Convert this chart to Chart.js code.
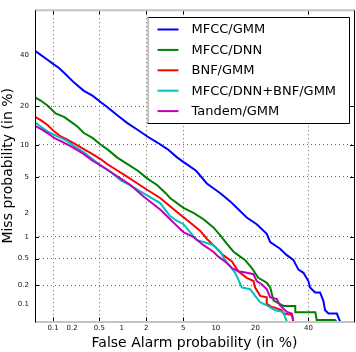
<!DOCTYPE html>
<html><head><meta charset="utf-8">
<script src="https://cdn.jsdelivr.net/npm/chart.js@4.4.0/dist/chart.umd.min.js"></script>
<style>html,body{margin:0;padding:0;background:#fff}canvas{display:block}</style>
</head><body>
<canvas id="c" width="356" height="352"></canvas>
<script>
// ---- data (percent) ----
const seriesNames = ["MFCC/GMM", "MFCC/DNN", "BNF/GMM", "MFCC/DNN+BNF/GMM", "Tandem/GMM"];
const seriesColors = ["#0000ff", "#008000", "#ff0000", "#00bfbf", "#bf00bf"];

const mfccGmmFA   = [0.05,0.0625,0.081,0.104,0.125,0.16,0.214,0.30,0.40,0.52,0.64,0.875,1.18,1.57,2.06,2.67,3.44,4.37,5.1,6.67,8.35,9.53,10.9,13.1,14.7,17.4,20.4,23.7,24.9,28.5,31.1,33.7,35.8,37.9,40,40.7,42.9,45.1,46.5,47.3,48.8,52.5,53.9];
const mfccGmmMiss = [41.7,39.9,37.8,35.7,34.3,31.6,28.4,25.3,23.6,21.4,19.8,17.3,15.1,13.4,11.8,10.5,9.2,7.7,6.95,5.76,4.27,3.8,3.36,2.72,2.29,1.75,1.45,1.09,0.85,0.69,0.56,0.48,0.346,0.31,0.232,0.184,0.153,0.153,0.113,0.078,0.0685,0.0685,0.05];

const mfccDnnFA   = [0.05,0.0625,0.081,0.0975,0.11,0.15,0.19,0.24,0.30,0.40,0.52,0.64,0.875,1.18,1.57,2.06,2.67,3.3,3.67,5.03,6.3,7.8,9.53,10.9,12.3,13.9,15.6,16.9,18.9,20.9,23.7,24.9,26.1,29.8,34.5,34.5,43.0,43.6,51.7,52.0];
const mfccDnnMiss = [23.0,21.9,20.3,18.8,17.8,16.8,15.5,14.2,12.6,11.5,10.1,9.2,7.7,6.7,5.8,4.8,4.1,3.36,2.97,2.29,2.0,1.67,1.32,1.04,0.81,0.626,0.534,0.48,0.365,0.26,0.219,0.184,0.113,0.092,0.092,0.072,0.072,0.053,0.053,0.05];

const bnfGmmFA   = [0.05,0.0625,0.081,0.104,0.133,0.169,0.227,0.30,0.40,0.52,0.64,0.875,1.18,1.57,2.06,2.87,3.67,4.66,5.84,7.26,8.35,9.85,11.5,13.5,15.1,17.4,19.4,19.9,21.5,23.7,23.7,25.5,26.1,29.2,29.8,33.1,33.7];
const bnfGmmMiss = [16.8,15.9,14.6,13.0,11.8,11.1,10.1,9.2,8.3,7.47,6.7,5.8,5.0,4.27,3.64,2.97,2.39,1.91,1.52,1.2,0.94,0.73,0.56,0.454,0.326,0.26,0.232,0.184,0.135,0.128,0.1,0.088,0.088,0.078,0.0685,0.065,0.05];

const fusionFA   = [0.05,0.0625,0.081,0.104,0.133,0.169,0.214,0.30,0.40,0.52,0.716,0.97,1.2,2.02,2.87,3.67,4.3,5.03,5.84,6.77,7.8,9.53,10.9,11.9,13.1,14.3,15.1,16.0,18.4,19.9,21.5,23.7,26.7,29.8,30.4,31.1];
const fusionMiss = [15.3,14.2,13.0,12.2,11.5,10.8,9.8,8.6,7.47,6.5,5.6,4.6,4.2,3.2,2.6,1.83,1.6,1.45,1.15,0.9,0.85,0.77,0.626,0.48,0.386,0.31,0.246,0.184,0.173,0.135,0.106,0.094,0.078,0.073,0.06,0.05];

const tandemFA   = [0.05,0.0625,0.081,0.104,0.133,0.169,0.227,0.30,0.40,0.52,0.716,0.97,1.3,1.84,2.87,3.67,4.3,5.03,6.3,7.8,9.53,10.5,11.9,13.5,15.1,17.4,19.4,20.4,22.0,23.7,24.9,27.3,28.5,29.8,31.1,33.1,33.7];
const tandemMiss = [14.4,13.6,12.6,11.5,10.8,10.1,9.2,8.3,7.2,6.5,5.6,4.8,4.1,3.1,2.19,1.67,1.39,1.15,0.99,0.77,0.626,0.534,0.454,0.365,0.326,0.31,0.295,0.232,0.207,0.173,0.128,0.12,0.094,0.083,0.073,0.0685,0.05];

const xTickValues = [0.1,0.2,0.5,1,2,5,10,20,40];
const yTickValues = [0.1,0.2,0.5,1,2,5,10,20,40];
const xGridValues = [0.1,0.5,2,5,40];
const yGridValues = [0.2,0.5,1,5,10,20];
const axisMin = 0.05, axisMax = 60;

// ---- probit scale ----
function probit(p){
  const a=[-3.969683028665376e+01,2.209460984245205e+02,-2.759285104469687e+02,1.383577518672690e+02,-3.066479806614716e+01,2.506628277459239e+00];
  const b=[-5.447609879822406e+01,1.615858368580409e+02,-1.556989798598866e+02,6.680131188771972e+01,-1.328068155288572e+01];
  const c=[-7.784894002430293e-03,-3.223964580411365e-01,-2.400758277161838e+00,-2.549732539343734e+00,4.374664141464968e+00,2.938163982698783e+00];
  const d=[7.784695709041462e-03,3.224671290700398e-01,2.445134137142996e+00,3.754408661907416e+00];
  const pl=0.02425, ph=1-pl; let q,r;
  if(p<pl){q=Math.sqrt(-2*Math.log(p));return (((((c[0]*q+c[1])*q+c[2])*q+c[3])*q+c[4])*q+c[5])/((((d[0]*q+d[1])*q+d[2])*q+d[3])*q+1);}
  if(p<=ph){q=p-0.5;r=q*q;return (((((a[0]*r+a[1])*r+a[2])*r+a[3])*r+a[4])*r+a[5])*q/(((((b[0]*r+b[1])*r+b[2])*r+b[3])*r+b[4])*r+1);}
  q=Math.sqrt(-2*Math.log(1-p));return -(((((c[0]*q+c[1])*q+c[2])*q+c[3])*q+c[4])*q+c[5])/((((d[0]*q+d[1])*q+d[2])*q+d[3])*q+1);
}
function Phi(z){
  const t=1/(1+0.3275911*Math.abs(z)/Math.SQRT2);
  const y=1-(((((1.061405429*t-1.453152027)*t)+1.421413741)*t-0.284496736)*t+0.254829592)*t*Math.exp(-z*z/2);
  return 0.5*(1+(z>=0?y:-y));
}
class ProbitScale extends Chart.LinearScale {
  determineDataLimits(){ this.min = this.options.min; this.max = this.options.max; }
  buildTicks(){ const vals = this.axis === 'x' ? xTickValues : yTickValues; return vals.map(v => ({value: v})); }
  configure(){ super.configure(); this._zMin = probit(this.min/100); this._zMax = probit(this.max/100); }
  getPixelForValue(v){
    if (v === null || v === undefined || isNaN(v)) return NaN;
    const p = Math.min(Math.max(v/100, 1e-9), 1-1e-9);
    return this.getPixelForDecimal((probit(p) - this._zMin)/(this._zMax - this._zMin));
  }
  getValueForPixel(px){ const dec = this.getDecimalForPixel(px); return 100*Phi(this._zMin + dec*(this._zMax - this._zMin)); }
}
ProbitScale.id = 'probit';
ProbitScale.defaults = {};
Chart.register(ProbitScale);

const FONT = "'DejaVu Sans', sans-serif";
const seriesFA = [mfccGmmFA, mfccDnnFA, bnfGmmFA, fusionFA, tandemFA];
const seriesMiss = [mfccGmmMiss, mfccDnnMiss, bnfGmmMiss, fusionMiss, tandemMiss];
const datasets = seriesNames.map((name, k) => ({
  label: name,
  data: seriesFA[k].map((f, i) => ({x: f, y: seriesMiss[k][i]})),
  borderColor: seriesColors[k],
  backgroundColor: seriesColors[k],
  borderWidth: 2,
  pointRadius: 0,
  tension: 0,
  fill: false,
  order: seriesNames.length - k
}));

const framePlugin = {
  id: 'frame',
  afterDatasetsDraw(chart){
    const {ctx, chartArea: ca, scales} = chart;
    ctx.save();
    ctx.strokeStyle = '#000'; ctx.lineWidth = 1;
    const tl = 4;
    xGridValues.forEach(v => {
      const x = Math.round(scales.x.getPixelForValue(v)) + 0.5;
      ctx.beginPath(); ctx.moveTo(x, ca.top); ctx.lineTo(x, ca.top + tl); ctx.stroke();
      ctx.beginPath(); ctx.moveTo(x, ca.bottom); ctx.lineTo(x, ca.bottom - tl); ctx.stroke();
    });
    yGridValues.forEach(v => {
      const y = Math.round(scales.y.getPixelForValue(v)) + 0.5;
      ctx.beginPath(); ctx.moveTo(ca.left, y); ctx.lineTo(ca.left + tl, y); ctx.stroke();
      ctx.beginPath(); ctx.moveTo(ca.right, y); ctx.lineTo(ca.right - tl, y); ctx.stroke();
    });
    ctx.strokeStyle = '#c4c4c4'; ctx.lineWidth = 2;
    ctx.beginPath(); ctx.moveTo(ca.left, ca.top); ctx.lineTo(ca.right, ca.top); ctx.stroke();
    ctx.beginPath(); ctx.moveTo(ca.left, ca.bottom + 0.5); ctx.lineTo(ca.right, ca.bottom + 0.5); ctx.stroke();
    ctx.strokeStyle = '#000'; ctx.lineWidth = 1;
    const lx = Math.round(ca.left) + 0.5, rx = Math.round(ca.right) + 0.5;
    ctx.beginPath(); ctx.moveTo(lx, ca.top); ctx.lineTo(lx, ca.bottom + 1); ctx.stroke();
    ctx.beginPath(); ctx.moveTo(rx, ca.top); ctx.lineTo(rx, ca.bottom + 1); ctx.stroke();
    ctx.restore();
  },
  afterDraw(chart){
    const {ctx, chartArea: ca} = chart;
    ctx.save();
    const bw = 202, bh = 106;
    const bx = Math.round(ca.right - 207) + 0.5, by = Math.round(ca.top + 6.5) + 0.5;
    ctx.fillStyle = '#fff';
    ctx.fillRect(bx, by, bw, bh);
    ctx.strokeStyle = '#000'; ctx.lineWidth = 1;
    ctx.beginPath();
    ctx.moveTo(bx, by); ctx.lineTo(bx + bw, by); ctx.lineTo(bx + bw, by + bh); ctx.lineTo(bx, by + bh);
    ctx.stroke();
    ctx.strokeStyle = '#c4c4c4'; ctx.lineWidth = 2;
    ctx.beginPath(); ctx.moveTo(bx + 0.5, by); ctx.lineTo(bx + 0.5, by + bh - 0.5); ctx.stroke();
    ctx.font = "13px " + FONT;
    ctx.textBaseline = 'middle'; ctx.textAlign = 'left';
    chart.data.datasets.forEach((ds, i) => {
      const y = by + 12 + i*20.4;
      ctx.strokeStyle = ds.borderColor; ctx.lineWidth = 2;
      ctx.beginPath(); ctx.moveTo(bx + 10, y); ctx.lineTo(bx + 31, y); ctx.stroke();
      ctx.fillStyle = '#000';
      ctx.fillText(ds.label, bx + 44, y + 0.5);
    });
    ctx.restore();
  }
};

new Chart(document.getElementById('c'), {
  type: 'line',
  data: { datasets },
  options: {
    responsive: false,
    devicePixelRatio: 1,
    animation: false,
    events: [],
    layout: { padding: { left: 0, right: 2, top: 2.5, bottom: 0 } },
    plugins: { legend: { display: false }, tooltip: { enabled: false } },
    scales: {
      x: {
        type: 'probit', min: axisMin, max: axisMax, position: 'bottom',
        afterFit(s){ s.height = 30.6; },
        border: { display: false, dash: [1, 3] },
        grid: {
          drawTicks: false,
          lineWidth: 1,
          color: c => (c.tick && xGridValues.includes(c.tick.value)) ? '#666' : 'rgba(0,0,0,0)'
        },
        ticks: {
          autoSkip: false, maxRotation: 0, padding: 3,
          font: { family: FONT, size: 7 }, color: '#111',
          callback: v => String(v)
        },
        title: { display: true, text: 'False Alarm probability (in %)', font: { family: FONT, size: 14 }, color: '#000', padding: { top: 0, bottom: 0 } }
      },
      y: {
        type: 'probit', min: axisMin, max: axisMax, position: 'left',
        afterFit(s){ s.width = 35; },
        border: { display: false, dash: [1, 3] },
        grid: {
          drawTicks: false,
          lineWidth: 1,
          color: c => (c.tick && yGridValues.includes(c.tick.value)) ? '#666' : 'rgba(0,0,0,0)'
        },
        ticks: {
          autoSkip: false, padding: 6,
          font: { family: FONT, size: 7 }, color: '#111',
          callback: v => String(v)
        },
        title: { display: true, text: 'Miss probability (in %)', font: { family: FONT, size: 14 }, color: '#000', padding: { top: 0, bottom: 0 } }
      }
    }
  },
  plugins: [framePlugin]
});
</script>
</body></html>
